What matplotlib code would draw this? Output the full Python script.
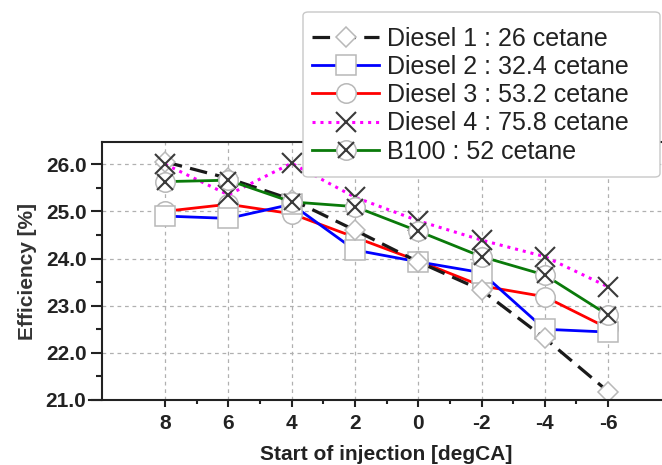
import matplotlib
matplotlib.use("Agg")
import matplotlib.pyplot as plt
from matplotlib.patches import FancyBboxPatch
from matplotlib.ticker import MultipleLocator, FixedLocator, FormatStrFormatter

plt.rcParams['font.family'] = ['Liberation Sans', 'DejaVu Sans']
plt.rcParams['axes.unicode_minus'] = False

soi = [8, 6, 4, 2, 0, -2, -4, -6]
diesel1 = [26.05, 25.70, 25.25, 24.60, 23.93, 23.33, 22.31, 21.18]
diesel2 = [24.90, 24.85, 25.15, 24.18, 23.93, 23.70, 22.50, 22.44]
diesel3 = [25.00, 25.15, 24.95, 24.45, 23.95, 23.42, 23.19, 22.52]
diesel4 = [26.00, 25.35, 26.02, 25.30, 24.80, 24.39, 24.04, 23.40]
b100 = [25.63, 25.66, 25.20, 25.10, 24.58, 24.04, 23.65, 22.80]

labels = ["Diesel 1 : 26 cetane", "Diesel 2 : 32.4 cetane", "Diesel 3 : 53.2 cetane",
          "Diesel 4 : 75.8 cetane", "B100 : 52 cetane"]

W, H = 662, 465
fig = plt.figure(figsize=(W / 100, H / 100), dpi=100)
ax_l, ax_r, ax_t, ax_b = 101.7, 671.4, 142, 400
ax = fig.add_axes([ax_l / W, 1 - ax_b / H, (ax_r - ax_l) / W, (ax_b - ax_t) / H])

edge = '#b8b8b8'
mk_dark = '#3a3a3a'

h3, = ax.plot(soi, diesel3, color='#ff0000', lw=2.0, marker='o', ms=14,
              mfc='white', mec=edge, mew=1.1)
h2, = ax.plot(soi, diesel2, color='#0000ff', lw=2.0, marker='s', ms=14,
              mfc='white', mec=edge, mew=1.1)
h1, = ax.plot(soi, diesel1, color='#1a1a1a', lw=2.3, dashes=(5.5, 2.6), marker='D', ms=10.5,
              mfc='white', mec=edge, mew=1.1)
h4, = ax.plot(soi, diesel4, color='#ff00ff', lw=2.2, linestyle=(0, (1.0, 1.6)), marker='x', ms=14,
              mec=mk_dark, mew=1.5)
h5a, = ax.plot(soi, b100, color='#0a7a0a', lw=2.0, marker='o', ms=14,
               mfc='white', mec=edge, mew=1.1)
h5b, = ax.plot(soi, b100, linestyle='none', marker='x', ms=11, mec=mk_dark, mew=1.5)

ax.set_xlim(10, -8)
ax.set_ylim(21, 26.47)
ax.xaxis.set_major_locator(FixedLocator(soi))
ax.xaxis.set_minor_locator(FixedLocator([7, 5, 3, 1, -1, -3, -5]))
ax.yaxis.set_major_locator(MultipleLocator(1.0))
ax.yaxis.set_minor_locator(MultipleLocator(0.5))
ax.yaxis.set_major_formatter(FormatStrFormatter('%.1f'))

ax.grid(True, which='major', color='#b0b0b0', linestyle=(0, (3, 3)), lw=0.9)
ax.set_axisbelow(True)

ax.spines['right'].set_visible(False)
for s in ['left', 'bottom', 'top']:
    ax.spines[s].set_linewidth(1.5)
    ax.spines[s].set_color('#222222')
ax.spines['bottom'].set_bounds(10.4, -8)
ax.spines['bottom'].set_clip_on(False)

ax.tick_params(axis='both', which='major', width=1.5, color='#222222',
               labelsize=15, labelcolor='#222222', direction='out')
ax.tick_params(axis='y', which='major', length=8, pad=3)
ax.tick_params(axis='x', which='major', length=5, pad=5)
ax.tick_params(axis='y', which='minor', length=4.5, width=1.5, color='#222222')
ax.tick_params(axis='x', which='minor', length=3, width=1.5, color='#222222')
for lab in ax.get_xticklabels() + ax.get_yticklabels():
    lab.set_fontweight('bold')

ax.set_xlabel('Start of injection [degCA]', fontsize=15, fontweight='bold', color='#222222', labelpad=9)
ax.set_ylabel('Efficiency [%]', fontsize=15, fontweight='bold', color='#333333', labelpad=6)

# legend frame
lx0, lx1, ly0, ly1 = 303, 660, 12, 177
box = FancyBboxPatch((lx0 / W, 1 - ly1 / H), (lx1 - lx0) / W, (ly1 - ly0) / H,
                     boxstyle='round,pad=0,rounding_size=0.008', transform=fig.transFigure,
                     facecolor='white', edgecolor='#c8c8c8', lw=1.0, zorder=4)
fig.patches.append(box)

leg = fig.legend([h1, h2, h3, h4, (h5a, h5b)], labels,
                 loc='upper left', bbox_to_anchor=((lx0 - 5) / W, 1 - (ly0 + 1) / H),
                 bbox_transform=fig.transFigure, frameon=False, fontsize=18,
                 handlelength=2.7, handletextpad=0.3, labelspacing=0.17, borderpad=0.55,
                 borderaxespad=0)
leg.set_zorder(5)
for t in leg.get_texts():
    t.set_color('#222222')

fig.savefig('out.png', dpi=100)
